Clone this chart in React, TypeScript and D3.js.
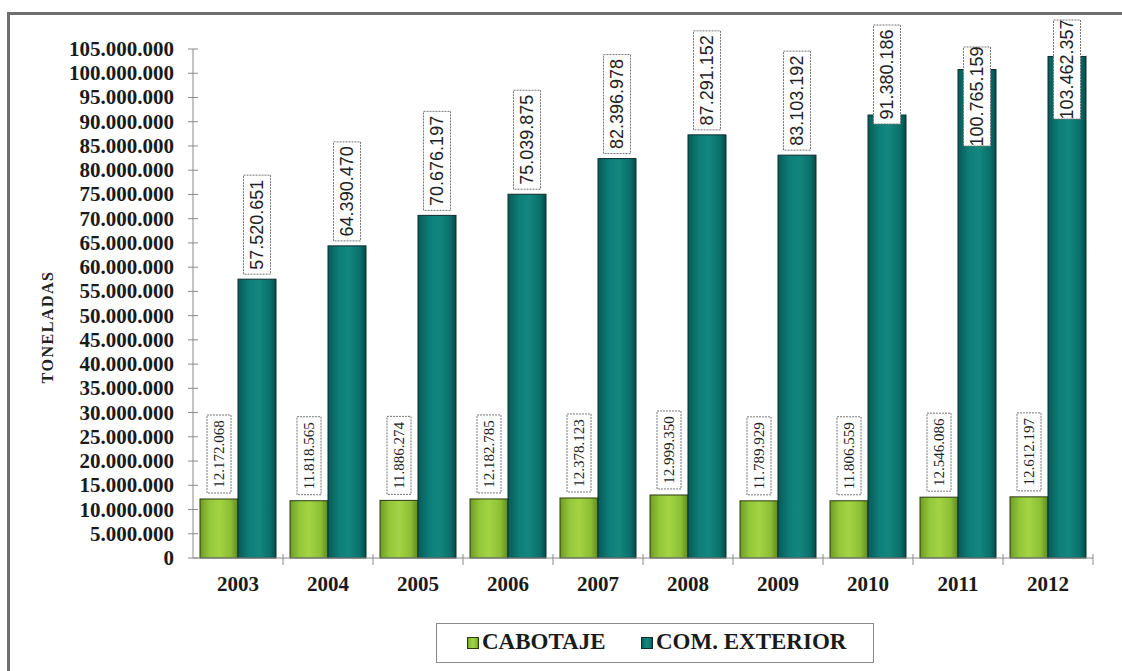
import React from "react";
import * as d3 from "d3";

const years = ["2003", "2004", "2005", "2006", "2007", "2008", "2009", "2010", "2011", "2012"];
const cabotaje = [12172068, 11818565, 11886274, 12182785, 12378123, 12999350, 11789929, 11806559, 12546086, 12612197];
const comExterior = [57520651, 64390470, 70676197, 75039875, 82396978, 87291152, 83103192, 91380186, 100765159, 103462357];
const seriesNames = ["CABOTAJE", "COM. EXTERIOR"];
const yTicks = d3.range(0, 105000001, 5000000);
const yAxisTitle = "TONELADAS";

// layout-only nudges for labels that Excel moved when they hit the top
const labelNudge: Record<string, number> = { "2010": 5, "2011": 27 };

const W = 1122;
const H = 671;
const left = 193;
const right = 1093;
const top = 49;
const bottom = 558;

const fmt = (v: number) => d3.format(",")(v).replace(/,/g, ".");

export default function App() {
  const x = d3.scaleBand<string>().domain(years).range([left, right]);
  const xs = d3.scaleBand<string>().domain(seriesNames).range([7, 83]);
  const y = d3.scaleLinear().domain([0, 105000000]).range([bottom, top]);
  const bw = xs.bandwidth();

  const serif = "'Liberation Serif', 'Times New Roman', serif";
  const sans = "'Liberation Sans', Arial, sans-serif";

  return (
    <svg width={W} height={H} style={{ position: "absolute", left: 0, top: 0, background: "#fff" }}>
      <defs>
        <linearGradient id="gGreen" x1="0" x2="1" y1="0" y2="0">
          <stop offset="0%" stopColor="#6f9b22" />
          <stop offset="25%" stopColor="#93c83a" />
          <stop offset="50%" stopColor="#a2d443" />
          <stop offset="80%" stopColor="#8cbf36" />
          <stop offset="100%" stopColor="#5e8a1c" />
        </linearGradient>
        <linearGradient id="gTeal" x1="0" x2="1" y1="0" y2="0">
          <stop offset="0%" stopColor="#075a57" />
          <stop offset="30%" stopColor="#0e7e79" />
          <stop offset="55%" stopColor="#13877f" />
          <stop offset="85%" stopColor="#0b6f6b" />
          <stop offset="100%" stopColor="#054a47" />
        </linearGradient>
      </defs>

      {/* outer frame */}
      <rect x={8.5} y={13.5} width={W + 20} height={H + 20} fill="none" stroke="#6e6e6e" strokeWidth={3} />

      {/* y axis title */}
      <text
        transform={`translate(47,327) rotate(-90)`}
        textAnchor="middle"
        dominantBaseline="central"
        fontFamily={serif}
        fontWeight="bold"
        fontSize={16}
        letterSpacing={1.5}
        fill="#222"
      >
        {yAxisTitle}
      </text>

      {/* y axis */}
      <line x1={left} x2={left} y1={top} y2={bottom} stroke="#8a8a8a" strokeWidth={1} />
      {yTicks.map((t) => (
        <g key={t}>
          <line x1={left - 5} x2={left + 5} y1={y(t)} y2={y(t)} stroke="#8a8a8a" strokeWidth={1} />
          <text
            x={174}
            y={y(t)}
            textAnchor="end"
            dominantBaseline="central"
            fontFamily={serif}
            fontWeight="bold"
            fontSize={21}
            fill="#1a1a1a"
          >
            {fmt(t)}
          </text>
        </g>
      ))}

      {/* bars */}
      {years.map((yr, i) => {
        const x0 = x(yr)!;
        const gx = x0 + xs(seriesNames[0])!;
        const tx = x0 + xs(seriesNames[1])!;
        const gTop = y(cabotaje[i]);
        const tTop = y(comExterior[i]);
        return (
          <g key={yr}>
            <rect x={gx} y={gTop} width={bw} height={bottom - gTop} fill="url(#gGreen)" stroke="#2c3a14" strokeWidth={1} />
            <rect x={tx} y={tTop} width={bw} height={bottom - tTop} fill="url(#gTeal)" stroke="#0d2e2c" strokeWidth={1} />
          </g>
        );
      })}

      {/* labels */}
      {years.map((yr, i) => {
        const x0 = x(yr)!;
        const gcx = x0 + xs(seriesNames[0])! + bw / 2;
        const tcx = x0 + xs(seriesNames[1])! + bw / 2;
        const gTop = y(cabotaje[i]);
        const tTop = y(comExterior[i]);
        const gh = 78, gw = 24;
        const gBottom = gTop - 6;
        const th = 99, tw = 27;
        let tBoxTop = tTop - 5 - th;
        if (tBoxTop < 20) tBoxTop = 20 + (labelNudge[yr] || 0);
        return (
          <g key={yr}>
            <rect x={gcx - gw / 2} y={gBottom - gh} width={gw} height={gh} fill="#fff" stroke="#777" strokeWidth={1} strokeDasharray="2,1" />
            <text
              transform={`translate(${gcx},${gBottom - gh / 2}) rotate(-90)`}
              textAnchor="middle"
              dominantBaseline="central"
              fontFamily={serif}
              fontSize={15}
              fill="#222"
            >
              {fmt(cabotaje[i])}
            </text>
            <rect x={tcx - tw / 2} y={tBoxTop} width={tw} height={th} fill="#fff" stroke="#777" strokeWidth={1} strokeDasharray="2,1" />
            <text
              transform={`translate(${tcx},${tBoxTop + th / 2}) rotate(-90)`}
              textAnchor="middle"
              dominantBaseline="central"
              fontFamily={sans}
              fontSize={18}
              fill="#222"
            >
              {fmt(comExterior[i])}
            </text>
          </g>
        );
      })}

      {/* x axis */}
      <line x1={left} x2={right} y1={bottom} y2={bottom} stroke="#8a8a8a" strokeWidth={1} />
      {years.map((yr) => (
        <line key={yr} x1={x(yr)! + x.bandwidth()} x2={x(yr)! + x.bandwidth()} y1={bottom - 4} y2={bottom + 7} stroke="#8a8a8a" strokeWidth={1} />
      ))}
      {years.map((yr) => (
        <text
          key={yr}
          x={x(yr)! + x.bandwidth() / 2}
          y={591}
          textAnchor="middle"
          fontFamily={serif}
          fontWeight="bold"
          fontSize={21}
          fill="#1a1a1a"
        >
          {yr}
        </text>
      ))}

      {/* legend */}
      <rect x={436.5} y={623.5} width={437} height={39} fill="#fff" stroke="#8a8a8a" strokeWidth={1} />
      <rect x={467.5} y={637.5} width={11} height={11} fill="url(#gGreen)" stroke="#2c3a14" strokeWidth={1} />
      <text x={482} y={649} fontFamily={serif} fontWeight="bold" fontSize={23} fill="#1a1a1a">
        {seriesNames[0]}
      </text>
      <rect x={641.5} y={637.5} width={11} height={11} fill="url(#gTeal)" stroke="#0d2e2c" strokeWidth={1} />
      <text x={656} y={649} fontFamily={serif} fontWeight="bold" fontSize={23} fill="#1a1a1a">
        {seriesNames[1]}
      </text>
    </svg>
  );
}
